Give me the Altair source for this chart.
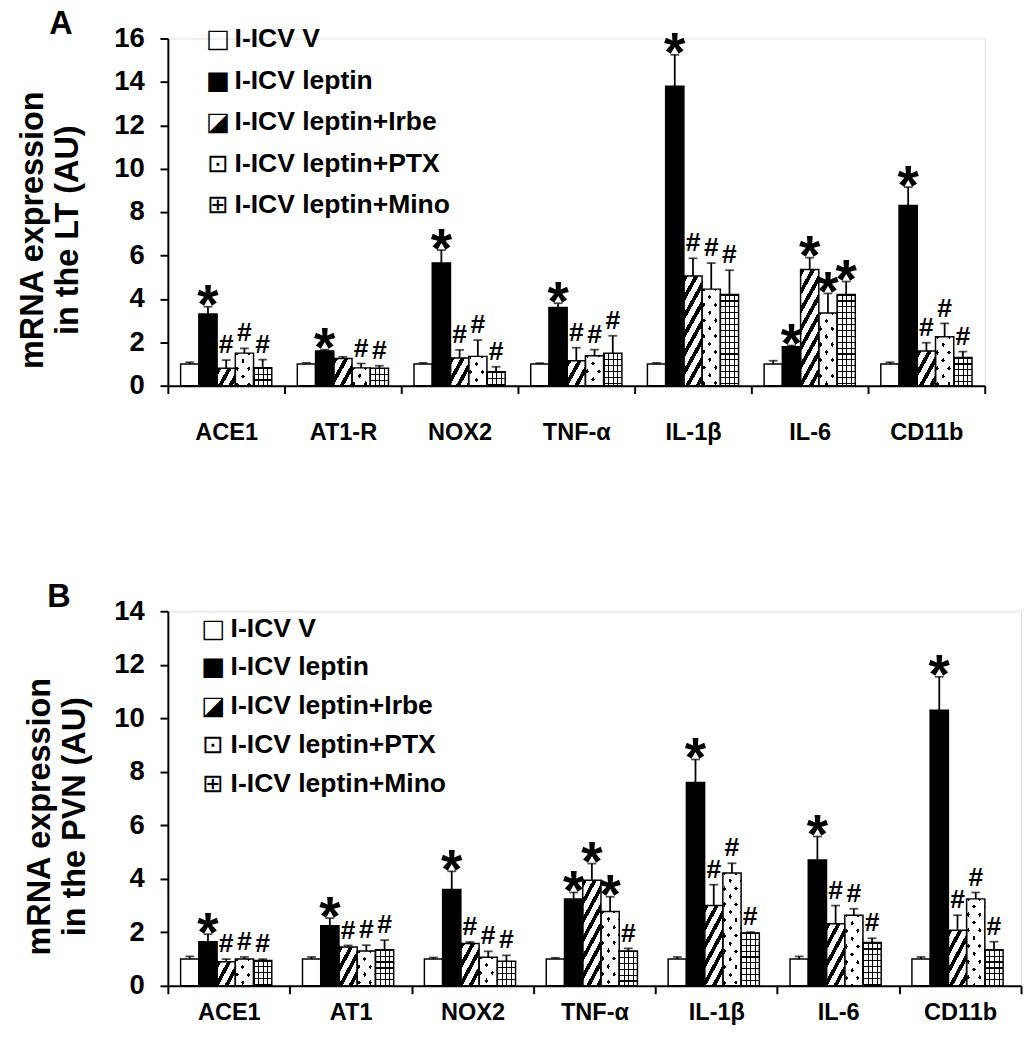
import math
import altair as alt

SERIES = ["I-ICV V", "I-ICV leptin", "I-ICV leptin+Irbe", "I-ICV leptin+PTX", "I-ICV leptin+Mino"]
GLYPHS = ["□", "■", "◪", "⊡", "⊞"]

# ---------------- Panel A (LT) ----------------
CATS_A = ["ACE1", "AT1-R", "NOX2", "TNF-α", "IL-1β", "IL-6", "CD11b"]
A_V = [1.0, 1.0, 1.0, 1.0, 1.0, 1.0, 1.0]
A_V_ERR = [0.08, 0.05, 0.05, 0.04, 0.05, 0.15, 0.08]
A_LEP = [3.3, 1.6, 5.65, 3.6, 13.8, 1.8, 8.3]
A_LEP_ERR = [0.34, 0.06, 0.6, 0.2, 1.45, 0.05, 0.85]
A_IRB = [0.8, 1.25, 1.28, 1.15, 5.05, 5.35, 1.6]
A_IRB_ERR = [0.38, 0.08, 0.37, 0.6, 0.82, 0.55, 0.38]
A_PTX = [1.5, 0.82, 1.35, 1.38, 4.45, 3.35, 2.25]
A_PTX_ERR = [0.22, 0.2, 0.75, 0.28, 1.2, 0.9, 0.62]
A_MIN = [0.83, 0.8, 0.64, 1.5, 4.2, 4.2, 1.3]
A_MIN_ERR = [0.37, 0.12, 0.23, 0.8, 1.12, 0.6, 0.27]
A_SIG = [["", "*", "#", "#", "#"],
         ["", "*", "", "#", "#"],
         ["", "*", "#", "#", "#"],
         ["", "*", "#", "#", "#"],
         ["", "*", "#", "#", "#"],
         ["", "*", "*", "*", "*"],
         ["", "*", "#", "#", "#"]]

# ---------------- Panel B (PVN) ----------------
CATS_B = ["ACE1", "AT1", "NOX2", "TNF-α", "IL-1β", "IL-6", "CD11b"]
B_V = [1.0, 1.0, 1.0, 1.0, 1.0, 1.0, 1.0]
B_V_ERR = [0.1, 0.08, 0.06, 0.05, 0.08, 0.1, 0.08]
B_LEP = [1.65, 2.25, 3.6, 3.25, 7.6, 4.7, 10.3]
B_LEP_ERR = [0.28, 0.28, 0.68, 0.24, 0.86, 0.88, 1.25]
B_IRB = [0.9, 1.45, 1.58, 3.95, 3.0, 2.32, 2.08]
B_IRB_ERR = [0.1, 0.06, 0.06, 0.62, 0.78, 0.68, 0.56]
B_PTX = [1.0, 1.3, 1.07, 2.78, 4.22, 2.64, 3.25]
B_PTX_ERR = [0.08, 0.22, 0.22, 0.55, 0.36, 0.24, 0.24]
B_MIN = [0.95, 1.35, 0.92, 1.3, 1.98, 1.62, 1.35]
B_MIN_ERR = [0.05, 0.36, 0.22, 0.1, 0.03, 0.16, 0.3]
B_SIG = [["", "*", "#", "#", "#"],
         ["", "*", "#", "#", "#"],
         ["", "*", "#", "#", "#"],
         ["", "*", "*", "*", "#"],
         ["", "*", "#", "#", "#"],
         ["", "*", "#", "#", "#"],
         ["", "*", "#", "#", "#"]]

FONT = "Liberation Sans"
T = "rgba(255,255,255,0)"


def stripes(ax, ay, w, h, period, frac, band, bg):
    """Linear gradient with hard stops emulating a hatch pattern (bbox units)."""
    gx, gy = ax * w, ay * h
    u0 = 0.0 if gx >= 0 else 1.0
    v0 = 0.0 if gy >= 0 else 1.0
    pmin = min(0.0, gx) + min(0.0, gy)
    pmax = max(0.0, gx) + max(0.0, gy)
    R = pmax - pmin
    if R <= 1e-9:
        return bg
    n2 = gx * gx + gy * gy
    x2 = u0 + gx * R / n2
    y2 = v0 + gy * R / n2
    edges = [pmin, pmax]
    k0 = math.floor(pmin / period) - 1
    k1 = math.ceil(pmax / period) + 1
    for k in range(k0, k1 + 1):
        for e in (k * period, k * period + frac * period):
            if pmin < e < pmax:
                edges.append(e)
    edges.sort()
    stops = []
    for a, b in zip(edges[:-1], edges[1:]):
        if b - a < 1e-9:
            continue
        m = (a + b) / 2
        col = band if (m % period) < frac * period else bg
        stops.append({"offset": round((a - pmin) / R, 5), "color": col})
        stops.append({"offset": round((b - pmin) / R, 5), "color": col})
    return {"gradient": "linear", "x1": u0, "y1": v0,
            "x2": round(x2, 5), "y2": round(y2, 5), "stops": stops}


def fills(si, w, h):
    if si == 0:
        return "white", T, T
    if si == 1:
        return "black", T, T
    if si == 2:
        return stripes(1.8, 1.0, w, h, 19, 0.42, "black", "white"), T, T
    if si == 3:
        return ("black",
                stripes(1.0, 0.75, w, h, 12, 0.3, T, "white"),
                stripes(1.0, -0.75, w, h, 12, 0.3, T, "white"))
    return (stripes(0.0, 1.0, w, h, 6, 0.2, "black", "white"),
            stripes(1.0, 0.0, w, h, w / 4, 0.22, "black", T), T)


def panel(cats, means, errs, sigs, width, height, ymax, pad_outer, ytitle,
          letter, letter_x, letter_y, title_pad, xlab_pad, leg_range, leg_sx, leg_tx):
    nb = len(SERIES)
    step = width / len(cats)
    bw = step / (nb + 2 * pad_outer)
    ppu = height / ymax
    recs = []
    for si, s in enumerate(SERIES):
        for ci, c in enumerate(cats):
            m = means[si][ci]
            e = errs[si][ci]
            g0, g1, g2 = fills(si, bw, m * ppu)
            recs.append({"cat": c, "series": s, "mean": m, "top": m + e,
                         "sig": sigs[ci][si], "g0": g0, "g1": g1, "g2": g2})
    data = alt.Data(values=recs)

    yscale = alt.Scale(domain=[0, ymax], nice=False)
    yaxis = alt.Axis(values=list(range(0, ymax + 1, 2)), grid=False, format="d",
                     domainColor="black", domainWidth=2, tickColor="black",
                     tickWidth=2, tickSize=8, labelFont=FONT, labelFontWeight="bold",
                     labelFontSize=28, labelColor="black", labelPadding=16,
                     title=ytitle, titleFont=FONT, titleFontWeight="bold",
                     titleFontSize=33, titleColor="black", titleLineHeight=36,
                     titlePadding=title_pad, titleY=height / 2 + 18)
    xaxis = alt.Axis(title=None, labelAngle=0, tickBand="extent", domainColor="black",
                     domainWidth=2, tickColor="black", tickWidth=2, tickSize=8,
                     labelFont=FONT, labelFontWeight="bold", labelFontSize=24,
                     labelColor="black", labelPadding=xlab_pad, grid=False)

    base = alt.Chart(data).encode(
        x=alt.X("cat:N", sort=cats, axis=xaxis,
                scale=alt.Scale(paddingInner=0, paddingOuter=0)),
        xOffset=alt.XOffset("series:N", sort=SERIES,
                            scale=alt.Scale(paddingInner=0, paddingOuter=pad_outer)),
    )
    ym = alt.Y("mean:Q", scale=yscale, axis=yaxis)
    yt = alt.Y("top:Q", scale=yscale, axis=yaxis)

    b0 = base.mark_bar(strokeWidth=0).encode(y=ym, fill=alt.Fill("g0:N", scale=None))
    b1 = base.mark_bar(strokeWidth=0).encode(y=ym, fill=alt.Fill("g1:N", scale=None))
    b2 = base.mark_bar(strokeWidth=0).encode(y=ym, fill=alt.Fill("g2:N", scale=None))
    outline = base.mark_bar(fillOpacity=0, stroke="black", strokeWidth=1.5).encode(y=ym)
    err = base.mark_rule(color="black", strokeWidth=1.8).encode(y=ym, y2="top:Q")
    cap = base.mark_tick(color="black", thickness=1.8, size=9).encode(y=yt)
    star = base.transform_filter("datum.sig == '*'").mark_text(
        font=FONT, fontWeight="bold", fontSize=56, baseline="alphabetic",
        dy=17, color="black").encode(y=yt, text="sig:N")
    hsh = base.transform_filter("datum.sig == '#'").mark_text(
        font=FONT, fontWeight="bold", fontSize=27, baseline="alphabetic",
        dy=-7, color="black").encode(y=yt, text="sig:N")
    bars = alt.layer(b0, b1, b2, outline, err, cap, star, hsh)

    leg_data = alt.Data(values=[{"series": s, "glyph": g} for s, g in zip(SERIES, GLYPHS)])
    leg = alt.Chart(leg_data).encode(
        y=alt.Y("series:N", sort=SERIES, axis=None,
                scale=alt.Scale(range=leg_range, padding=0)))
    leg_sw = leg.mark_text(font="DejaVu Sans", fontSize=26, align="center",
                           baseline="middle", color="black").encode(
        x=alt.value(leg_sx), text="glyph:N")
    leg_txt = leg.mark_text(font=FONT, fontWeight="bold", fontSize=27, align="left",
                            baseline="middle", color="black").encode(
        x=alt.value(leg_tx), text="series:N")
    tag = alt.Chart(alt.Data(values=[{"t": letter}])).mark_text(
        font=FONT, fontWeight="bold", fontSize=33, align="left",
        baseline="alphabetic", color="black").encode(
        x=alt.value(letter_x), y=alt.value(letter_y), text="t:N")
    legend = alt.layer(leg_sw, leg_txt, tag)

    return alt.layer(bars, legend).resolve_scale(y="independent").properties(
        width=width, height=height)


A_MEANS = [A_V, A_LEP, A_IRB, A_PTX, A_MIN]
A_ERRS = [A_V_ERR, A_LEP_ERR, A_IRB_ERR, A_PTX_ERR, A_MIN_ERR]
B_MEANS = [B_V, B_LEP, B_IRB, B_PTX, B_MIN]
B_ERRS = [B_V_ERR, B_LEP_ERR, B_IRB_ERR, B_PTX_ERR, B_MIN_ERR]

pA = panel(CATS_A, A_MEANS, A_ERRS, A_SIG, 833, 354, 16, 0.7,
           ["mRNA expression", "in the LT (AU)"], "A", -121, -5, 30, 28,
           [1, 170], 51, 68)
pB = panel(CATS_B, B_MEANS, B_ERRS, B_SIG, 870, 382, 14, 0.74,
           ["mRNA expression", "in the PVN (AU)"], "B", -123, -4, 23, 7,
           [18, 176], 46, 64)

chart = alt.concat(pA, pB, columns=1, spacing=138, align="none",
                   padding={"left": 8, "top": -11, "right": 0, "bottom": 0}
                   ).configure_view(stroke=None).configure(aria=False)

chart.save("out.html", embed_options={"renderer": "svg", "actions": False})
